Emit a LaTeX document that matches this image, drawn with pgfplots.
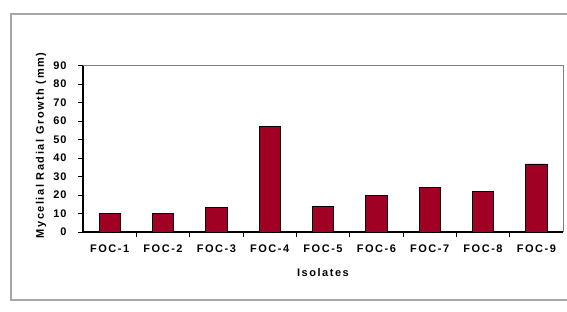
\documentclass[border=0pt]{standalone}
\usepackage{fontspec}
\setmainfont{Liberation Sans}[LetterSpace=8]
\newfontfamily\widefont{Liberation Sans}[LetterSpace=14]
\usepackage{pgfplots}
\pgfplotsset{compat=1.18}
\definecolor{barred}{RGB}{160,0,35}
\begin{document}
\begin{tikzpicture}[x=1pt,y=1pt]
\path[use as bounding box] (0,0) rectangle (567,311);
\draw[gray!70, line width=2pt] (570,297) -- (11,297) -- (11,11) -- (570,11);
\begin{axis}[
  at={(83pt,79pt)}, anchor=south west,
  scale only axis, width=480pt, height=166.5pt,
  xmin=-0.5, xmax=8.5, ymin=0, ymax=90,
  ytick={0,10,...,90},
  axis lines=left,
  axis line style={black, line width=1.3pt, -},
  xtick={0.5,1.5,...,7.5}, xticklabels={},
  extra x ticks={0,1,2,3,4,5,6,7,8},
  extra x tick labels={FOC-1,FOC-2,FOC-3,FOC-4,FOC-5,FOC-6,FOC-7,FOC-8,FOC-9},
  extra x tick style={major tick length=0pt, xticklabel style={yshift=-9pt, font=\widefont\fontsize{11}{13}\selectfont\bfseries}},
  tick align=outside,
  major tick length=5pt,
  tick style={black, line width=0.8pt},
  /pgf/number format/assume math mode=true,
  ticklabel style={font=\fontsize{11}{13}\selectfont\bfseries},
  yticklabel style={xshift=-8pt},
  xlabel={Isolates},
  ylabel={Mycelial Radial Growth (mm)},
  label style={font=\widefont\fontsize{11}{13}\selectfont\bfseries},
  xlabel style={at={(axis description cs:0.5,0)}, anchor=center, yshift=-41pt},
  ylabel style={at={(axis description cs:-0.0875,0.52)}, anchor=center},
  clip=false,
]
\draw[gray, line width=0.8pt] (rel axis cs:0,1) -- (rel axis cs:1,1) -- (rel axis cs:1,0);
\addplot[ybar, bar width=0.4, fill=barred, draw=black, line width=0.8pt]
  coordinates {(0,10.1) (1,9.8) (2,13.3) (3,57) (4,14) (5,19.8) (6,24.2) (7,21.8) (8,36.8)};
\end{axis}
\end{tikzpicture}
\end{document}
